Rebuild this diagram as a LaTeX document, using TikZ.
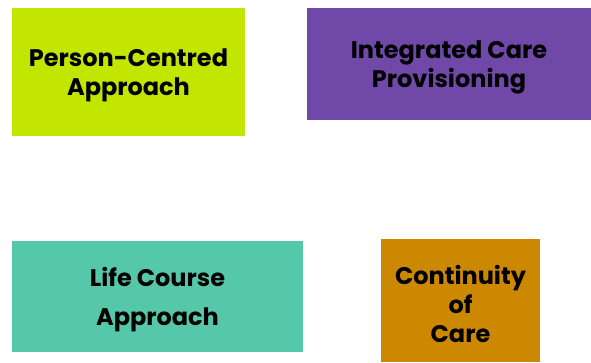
\documentclass[tikz,border=0pt]{standalone}
\usepackage{fontspec}
\setmainfont{Poppins}
\usepackage{xcolor}
\usepackage{tikz}

\definecolor{limeCard}{RGB}{194,230,0}
\definecolor{purpleCard}{RGB}{112,72,168}
\definecolor{tealCard}{RGB}{85,200,170}
\definecolor{amberCard}{RGB}{204,136,0}

\tikzset{
  card/.style={inner sep=0pt},
  cardtext/.style={inner sep=0pt, align=center, text=black, yshift=-2.5pt,
    font=\bfseries\fontsize{18}{21.75}\selectfont}
}

\begin{document}
\begin{tikzpicture}[x=0.75pt,y=0.75pt,yscale=-1,xscale=1]
\useasboundingbox (0,0) rectangle (591,362);

% Person-Centred
\node [card, fill=limeCard, minimum width=174.75pt, minimum height=96pt] (pca) at (128.5,72) {};
\node [cardtext] (pcaText) at (pca.center) {Person-Centred\\Approach};
% Integrated Care
\node [card, fill=purpleCard, minimum width=213pt, minimum height=84pt] (icp) at (449,64) {};
\node [cardtext] (icpText) at (icp.center) {Integrated Care\\Provisioning};
% Life Course
\node [card, fill=tealCard, minimum width=218.25pt, minimum height=83.25pt] (lca) at (157.5,296.5) {};
\node [cardtext, font=\bfseries\fontsize{18}{29.25}\selectfont] (lcaText) at (lca.center) {Life Course\\Approach};
% Continuity
\node [card, fill=amberCard, minimum width=119.25pt, minimum height=92.25pt] (coc) at (460.5,300.5) {};
\node [cardtext] (cocText) at (coc.center) {Continuity\\of\\Care};
\end{tikzpicture}
\end{document}
